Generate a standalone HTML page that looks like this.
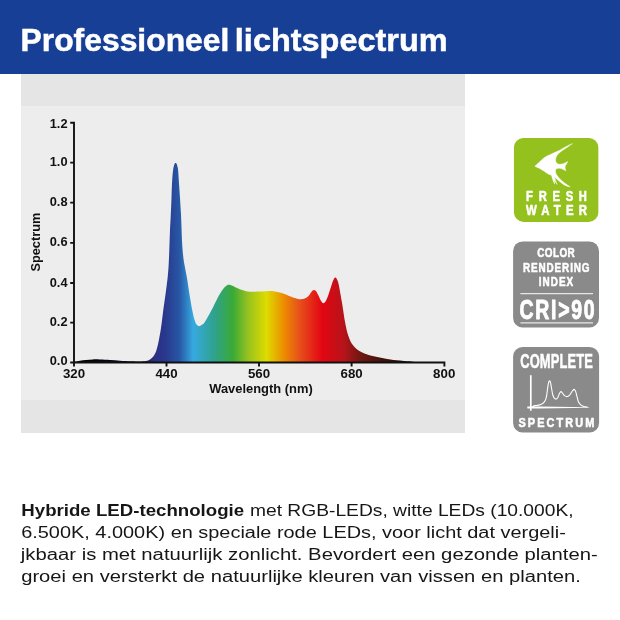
<!DOCTYPE html>
<html lang="nl">
<head>
<meta charset="utf-8">
<title>Professioneel lichtspectrum</title>
<style>
html,body{margin:0;padding:0;background:#fff;}
body{width:620px;height:620px;overflow:hidden;position:relative;font-family:"Liberation Sans",sans-serif;}
svg{position:absolute;left:0;top:0;display:block;}
text{font-family:"Liberation Sans",sans-serif;}
.ax{font-weight:bold;font-size:11.8px;fill:#111;}
.body{font-size:17.3px;fill:#161616;}
.b{font-weight:bold;}
.bw{font-weight:bold;fill:#fff;}
.st{stroke:#fff;stroke-width:0.55;stroke-linejoin:round;}
.st2{stroke:#fff;stroke-width:1.0;stroke-linejoin:round;}
</style>
</head>
<body>
<svg width="620" height="620" viewBox="0 0 620 620">
<defs>
<linearGradient id="spec" gradientUnits="userSpaceOnUse" x1="74" y1="0" x2="444" y2="0">
<stop offset="0" stop-color="#000"/>
<stop offset="0.17" stop-color="#0a0a1e"/>
<stop offset="0.215" stop-color="#2b2f83"/>
<stop offset="0.245" stop-color="#29378c"/>
<stop offset="0.285" stop-color="#2857a5"/>
<stop offset="0.322" stop-color="#36a9e1"/>
<stop offset="0.38" stop-color="#2fa28c"/>
<stop offset="0.43" stop-color="#3aaa35"/>
<stop offset="0.47" stop-color="#95c11f"/>
<stop offset="0.52" stop-color="#dedc00"/>
<stop offset="0.568" stop-color="#ec8b00"/>
<stop offset="0.61" stop-color="#e6501b"/>
<stop offset="0.67" stop-color="#e30613"/>
<stop offset="0.73" stop-color="#b5141a"/>
<stop offset="0.775" stop-color="#6e1711"/>
<stop offset="0.85" stop-color="#3a100c"/>
<stop offset="0.93" stop-color="#0a0505"/>
<stop offset="1" stop-color="#000"/>
</linearGradient>
</defs>
<!-- header -->
<rect x="0" y="0" width="620" height="74" fill="#183f96"/>
<g class="bw" font-size="31.2" stroke="#fff" stroke-width="0.5"><text x="20.55" y="51.2" textLength="208.8" lengthAdjust="spacingAndGlyphs">Professioneel</text><text x="234.85" y="51.2" textLength="212.8" lengthAdjust="spacingAndGlyphs">lichtspectrum</text></g>
<!-- chart panel -->
<rect x="21" y="74" width="444" height="359" fill="#e5e5e5"/>
<rect x="21" y="106" width="444" height="294" fill="#ededed"/>
<!-- spectrum -->
<path id="curve" fill="url(#spec)" d="M74,362.6 L74.0,362.0 C75.0,361.8 78.0,361.2 80.0,360.8 C82.0,360.4 83.8,360.1 86.0,359.9 C88.2,359.7 90.7,359.5 93.0,359.4 C95.3,359.3 97.2,359.4 100.0,359.5 C102.8,359.6 106.7,359.8 110.0,360.0 C113.3,360.2 116.5,360.5 120.0,360.7 C123.5,360.9 127.7,361.1 131.0,361.2 C134.3,361.3 137.5,361.4 140.0,361.4 C142.5,361.4 144.3,361.3 146.0,361.0 C147.7,360.7 148.7,360.5 150.0,359.6 C151.3,358.7 152.9,357.1 154.0,355.5 C155.1,353.9 155.7,352.4 156.5,350.0 C157.3,347.6 157.9,344.7 158.7,341.0 C159.4,337.3 160.2,333.2 161.0,328.0 C161.8,322.8 162.6,315.0 163.3,310.0 C164.0,305.0 164.4,302.0 165.0,298.0 C165.6,294.0 166.1,289.7 166.6,286.0 C167.1,282.3 167.5,279.3 167.8,276.0 C168.1,272.7 168.3,270.8 168.6,266.0 C168.9,261.2 169.2,253.0 169.4,247.0 C169.6,241.0 169.8,235.4 170.0,230.0 C170.2,224.6 170.6,219.8 170.8,214.5 C171.1,209.2 171.3,203.4 171.5,198.0 C171.7,192.6 171.8,186.7 172.1,182.0 C172.4,177.3 172.7,173.0 173.1,170.0 C173.5,167.0 174.0,165.4 174.4,164.2 C174.8,163.0 175.2,162.9 175.6,162.9 C176.0,162.9 176.4,163.0 176.8,164.2 C177.2,165.4 177.8,167.0 178.1,170.0 C178.4,173.0 178.6,177.3 178.9,182.0 C179.2,186.7 179.7,192.6 180.0,198.0 C180.3,203.4 180.7,209.2 181.0,214.5 C181.3,219.8 181.4,224.8 181.6,230.0 C181.8,235.2 181.9,240.6 182.3,246.0 C182.7,251.4 183.2,256.9 184.0,262.3 C184.8,267.7 186.2,273.0 187.1,278.4 C188.0,283.8 188.6,289.1 189.5,294.5 C190.4,299.9 191.4,306.0 192.3,310.6 C193.2,315.2 194.2,319.3 195.2,321.9 C196.2,324.5 197.3,325.5 198.4,326.0 C199.5,326.5 200.4,325.7 201.5,325.0 C202.6,324.3 203.2,324.4 204.8,322.0 C206.4,319.6 209.2,314.7 211.3,310.6 C213.5,306.6 215.8,301.2 217.7,297.7 C219.6,294.2 221.2,291.6 222.6,289.7 C224.0,287.8 224.9,286.8 226.0,286.0 C227.1,285.2 227.8,284.8 229.0,284.8 C230.2,284.8 231.7,285.5 233.0,286.0 C234.3,286.5 235.4,287.3 237.1,288.0 C238.8,288.7 240.8,289.7 243.0,290.3 C245.2,290.9 247.2,291.6 250.0,291.8 C252.8,292.0 256.6,291.7 260.0,291.6 C263.4,291.5 267.6,291.1 270.3,291.1 C273.0,291.1 274.1,291.5 276.0,291.8 C277.9,292.1 279.1,292.2 281.6,293.0 C284.2,293.8 288.7,295.9 291.3,296.8 C293.9,297.8 295.4,298.3 297.0,298.7 C298.6,299.1 299.8,299.2 301.0,299.2 C302.2,299.2 302.9,299.0 304.0,298.7 C305.1,298.4 306.4,297.9 307.4,297.1 C308.4,296.3 309.2,295.1 310.0,294.0 C310.8,292.9 311.6,291.5 312.3,290.8 C313.0,290.1 313.7,289.8 314.3,289.9 C314.9,290.0 315.6,290.4 316.2,291.3 C316.8,292.2 317.4,293.5 318.2,295.0 C319.0,296.5 319.9,299.1 320.8,300.5 C321.7,301.9 322.5,303.2 323.3,303.3 C324.1,303.4 325.0,302.3 325.8,301.0 C326.6,299.7 327.4,297.6 328.2,295.6 C328.9,293.6 329.6,291.1 330.3,289.0 C331.0,286.9 331.7,284.4 332.3,282.7 C332.9,281.0 333.5,279.5 334.0,278.7 C334.5,277.9 335.0,277.5 335.5,277.6 C336.0,277.7 336.5,278.4 337.0,279.5 C337.5,280.6 337.9,280.6 338.7,284.4 C339.5,288.2 340.8,295.7 341.9,302.1 C343.0,308.5 344.1,317.4 345.2,323.0 C346.3,328.6 347.1,332.2 348.4,336.0 C349.7,339.8 351.0,342.9 353.2,345.6 C355.4,348.3 358.1,350.4 361.3,352.1 C364.5,353.9 368.3,355.0 372.6,356.1 C376.9,357.2 382.5,358.2 387.1,358.9 C391.7,359.6 395.2,360.0 400.0,360.5 C404.8,361.0 413.3,361.8 416.0,362.0 L416,362.6 Z"/>
<!-- axes -->
<g stroke="#111" stroke-width="1.9" fill="none">
<path d="M70.2,122.7 H74 V366.5"/>
<path d="M70.2,362.5 H444.4 V366.5"/>
<path d="M70.2,162.6 H74 M70.2,202.6 H74 M70.2,242.9 H74 M70.2,283 H74 M70.2,322.6 H74"/>
<path d="M166.5,362.5 V366.5 M259,362.5 V366.5 M351.6,362.5 V366.5"/>
</g>
<g class="ax" text-anchor="end" style="font-size:12.8px">
<text x="67.5" y="127.5">1.2</text>
<text x="67.5" y="165.6">1.0</text>
<text x="67.5" y="206.0">0.8</text>
<text x="67.5" y="246.3">0.6</text>
<text x="67.5" y="287.0">0.4</text>
<text x="67.5" y="326.3">0.2</text>
<text x="67.5" y="364.7">0.0</text>
</g>
<g class="ax" text-anchor="middle">
<text x="74" y="377.7" font-size="12.8" textLength="22.2" lengthAdjust="spacingAndGlyphs">320</text>
<text x="166.5" y="377.7" font-size="12.8" textLength="22.2" lengthAdjust="spacingAndGlyphs">440</text>
<text x="259" y="377.7" font-size="12.8" textLength="22.2" lengthAdjust="spacingAndGlyphs">560</text>
<text x="351.6" y="377.7" font-size="12.8" textLength="22.2" lengthAdjust="spacingAndGlyphs">680</text>
<text x="444.2" y="377.7" font-size="12.8" textLength="22.2" lengthAdjust="spacingAndGlyphs">800</text>
<text x="261" y="392.7" font-size="12.2" textLength="103.6" lengthAdjust="spacingAndGlyphs">Wavelength (nm)</text>
<text transform="translate(40,242.1) rotate(-90)" font-size="12.2" textLength="59" lengthAdjust="spacingAndGlyphs">Spectrum</text>
</g>
<!-- badge 1 -->
<rect x="513.95" y="138" width="84.4" height="83.9" rx="9.5" fill="#95c11f"/>
<path fill="#fff" stroke="#fff" stroke-width="0.35" stroke-linejoin="round" d="M534.8,166.2 C536.2,164.9 537.6,163.7 538.9,162.6 C540.5,161 542,159.5 543.7,158.1 C545.8,156.6 548,155.5 550.2,154.5 C552.6,153.4 555,152.4 557.4,151.3 C559.6,150.2 561.8,149 563.9,147.7 C565.5,146.8 567.1,146 568.7,145.2 C570,144.6 571.4,144 572.7,143.6 C571,144.6 569.4,145.7 567.9,146.9 C566,148 564.1,149.2 562.3,150.5 C560.8,151.6 559.4,152.8 558.2,154.1 C557.3,155.1 556.6,156.2 556.2,157.3 C555.8,158.3 555.5,159.3 555.6,160.2 C555.7,161.3 556,162.3 556.6,163 C557.5,163.8 558.6,164.2 559.8,164.2 C561.2,164.2 562.6,163.9 563.9,163.4 C565.3,162.8 566.6,162.1 567.9,161.4 C567.1,162.9 566.2,164.3 565.5,165.8 C565.2,166.5 565.1,167.2 565.1,167.8 C565.3,168.9 565.6,170 565.9,171 C564.8,170.2 563.6,169.5 562.3,169 C561.2,168.6 560.1,168.3 559,168.2 C558,168.2 557,168.4 556.2,169 C555.7,169.5 555.4,170.2 555.4,171 C555.5,172.3 555.9,173.5 556.6,174.7 C557.5,176.1 558.6,177.4 559.8,178.7 C561.3,180.3 563,181.8 564.7,183.1 C566.5,184.4 568.4,185.7 570.3,186.8 C568.4,186.6 566.6,186.1 565,185.4 C563.2,184.3 561.5,183.1 559.9,181.8 C558.2,180.5 556.7,179.1 555.2,177.7 C554.6,177 554,176.3 553.5,175.6 C554.5,177 555,178.8 555.6,180.5 C556.1,181.8 556.6,183.2 557.2,184.5 C556.2,183.3 555.3,182 554.6,180.6 C554.4,181.8 554.5,183 554.6,184.2 C553.7,182.6 553.1,180.9 552.6,179.2 C552.1,177.7 551.7,176.1 551.2,174.9 C550.6,174.8 550,174.8 549.4,174.7 C547.7,173.8 546.1,172.7 544.5,171.5 C542.9,170.5 541.3,169.6 539.7,168.6 C538,167.8 536.4,167 534.8,166.2 Z"/>
<g transform="translate(526.1,200.9) scale(0.800,1)"><text x="0" y="0" class="bw st" font-size="14.0" textLength="76.0" lengthAdjust="spacing">FRESH</text></g>
<g transform="translate(526.1,214.9) scale(0.800,1)"><text x="0" y="0" class="bw st" font-size="14.3" textLength="76.0" lengthAdjust="spacing">WATER</text></g>
<!-- badge 2 -->
<rect x="513.1" y="241.4" width="85.9" height="86.1" rx="9.5" fill="#8a8a8a"/>
<g transform="translate(537.2,257.4) scale(0.770,1)"><text x="0" y="0" class="bw st" font-size="12.9" textLength="48.8" lengthAdjust="spacing">COLOR</text></g>
<g transform="translate(522.9,272.0) scale(0.770,1)"><text x="0" y="0" class="bw st" font-size="12.9" textLength="86.6" lengthAdjust="spacing">RENDERING</text></g>
<g transform="translate(538.8,285.6) scale(0.770,1)"><text x="0" y="0" class="bw st" font-size="12.9" textLength="44.7" lengthAdjust="spacing">INDEX</text></g>
<rect x="520.4" y="293.2" width="72.6" height="1" fill="#fff"/>
<rect x="520.4" y="322.4" width="72.6" height="1" fill="#fff"/>
<g transform="translate(519.6,318.5) scale(0.700,1)"><text x="0" y="0" class="bw st2" font-size="27.8" textLength="107.1" lengthAdjust="spacing">CRI&gt;90</text></g>
<!-- badge 3 -->
<rect x="513.1" y="346.9" width="86" height="85.7" rx="9.5" fill="#8a8a8a"/>
<g transform="translate(520.2,367.6) scale(0.660,1)"><text x="0" y="0" class="bw st" font-size="19.6" textLength="110.2" lengthAdjust="spacing" style="stroke-width:0.5">COMPLETE</text></g>
<g transform="translate(518.4,427.1) scale(0.860,1)"><text x="0" y="0" class="bw st" font-size="12.7" textLength="88.4" lengthAdjust="spacing">SPECTRUM</text></g>
<path d="M530.8,375.2 V410.7" stroke="#fff" stroke-width="1.7" fill="none"/>
<path d="M527.3,406.5 L540,406.6 L589.1,407.2 L589.1,407.8 L540,408.4 L527.3,408.5 Z" fill="#fff"/>
<path fill="none" stroke="#fff" stroke-width="1.1" stroke-linejoin="round" d="M531.5,407.2 C531.7,407.1 532.2,406.9 532.7,406.6 C533.2,406.3 533.7,405.9 534.7,405.6 C535.7,405.4 537.4,405.5 538.7,405.1 C540.0,404.8 541.6,404.2 542.7,403.5 C543.8,402.8 544.6,401.9 545.2,400.6 C545.9,399.3 546.2,397.8 546.6,395.8 C547.0,393.8 547.3,390.6 547.6,388.5 C547.9,386.4 548.2,384.2 548.5,382.9 C548.8,381.6 549.2,380.9 549.6,380.9 C550.0,380.9 550.3,381.6 550.6,382.9 C550.9,384.2 551.2,386.5 551.6,388.5 C552.0,390.5 552.3,393.4 552.8,395.0 C553.3,396.6 553.9,397.5 554.4,398.2 C554.9,398.9 555.5,399.2 556.0,399.1 C556.5,399.0 557.2,398.6 557.7,397.8 C558.2,397.0 558.6,395.2 559.1,394.2 C559.6,393.2 560.3,391.7 560.9,391.6 C561.5,391.5 562.1,392.7 562.7,393.4 C563.3,394.1 563.8,395.1 564.5,395.6 C565.2,396.1 566.1,396.6 566.9,396.6 C567.7,396.6 568.6,396.2 569.4,395.4 C570.2,394.6 571.0,392.8 571.8,391.8 C572.6,390.8 573.4,389.5 574.0,389.4 C574.6,389.3 575.1,390.2 575.6,391.4 C576.1,392.6 576.5,394.8 577.0,396.6 C577.5,398.4 577.9,400.9 578.6,402.3 C579.3,403.7 580.1,404.4 581.0,405.1 C581.9,405.8 582.8,406.1 583.9,406.5 C585.0,406.9 586.9,407.1 587.5,407.2"/>
<!-- body text -->
<g class="body">
<text x="21.3" y="515.8" class="b" textLength="222.8" lengthAdjust="spacingAndGlyphs">Hybride LED-technologie</text>
<text x="250" y="515.8" textLength="323.6" lengthAdjust="spacingAndGlyphs">met RGB-LEDs, witte LEDs (10.000K,</text>
<text x="21.2" y="538.2" textLength="544.6" lengthAdjust="spacingAndGlyphs">6.500K, 4.000K) en speciale rode LEDs, voor licht dat vergeli-</text>
<text x="20.8" y="560.1" textLength="577" lengthAdjust="spacingAndGlyphs">jkbaar is met natuurlijk zonlicht. Bevordert een gezonde planten-</text>
<text x="21.2" y="582" textLength="559.6" lengthAdjust="spacingAndGlyphs">groei en versterkt de natuurlijke kleuren van vissen en planten.</text>
</g>
</svg>
</body>
</html>
